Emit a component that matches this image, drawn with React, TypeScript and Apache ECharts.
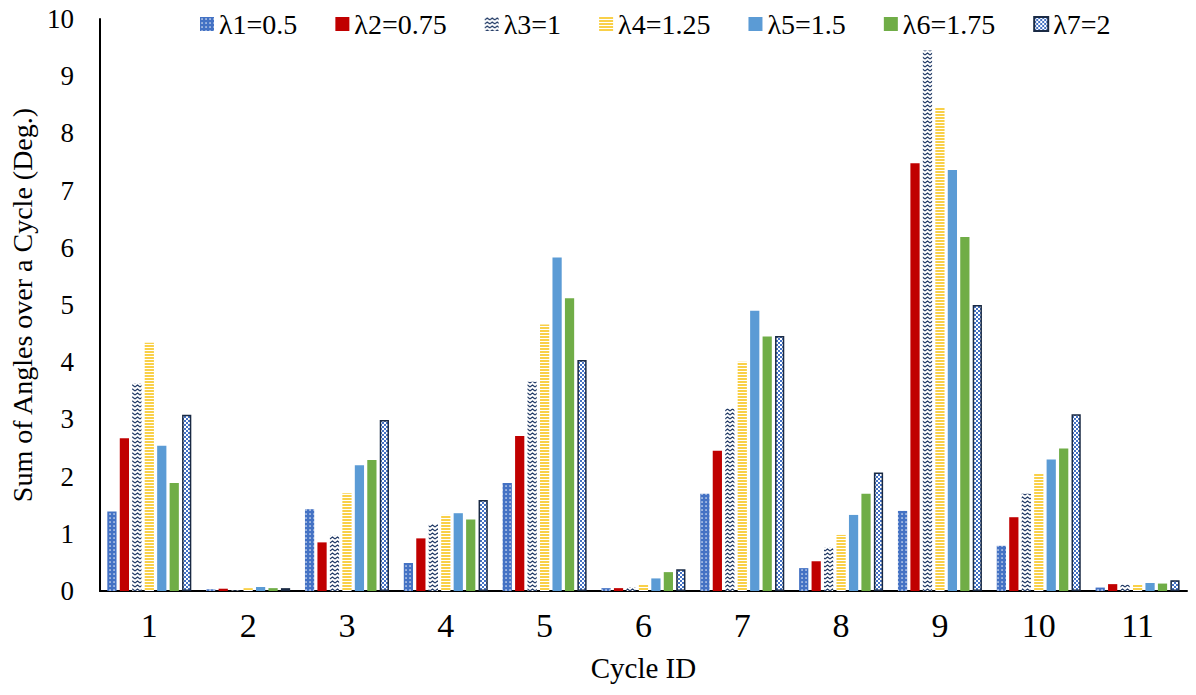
import React, { useEffect, useRef } from "react";
import * as echarts from "echarts";

const cycles = ["1", "2", "3", "4", "5", "6", "7", "8", "9", "10", "11"];
const seriesNames = ["λ1=0.5", "λ2=0.75", "λ3=1", "λ4=1.25", "λ5=1.5", "λ6=1.75", "λ7=2"];
const lambda1 = [1.39, 0.03, 1.43, 0.49, 1.89, 0.05, 1.7, 0.4, 1.4, 0.79, 0.06];
const lambda2 = [2.67, 0.04, 0.85, 0.92, 2.71, 0.05, 2.45, 0.52, 7.48, 1.29, 0.12];
const lambda3 = [3.63, 0.01, 0.97, 1.17, 3.66, 0.07, 3.19, 0.76, 9.45, 1.7, 0.11];
const lambda4 = [4.34, 0.05, 1.71, 1.33, 4.66, 0.11, 4.01, 0.98, 8.45, 2.05, 0.12];
const lambda5 = [2.54, 0.07, 2.2, 1.36, 5.83, 0.22, 4.9, 1.33, 7.36, 2.3, 0.14];
const lambda6 = [1.89, 0.05, 2.29, 1.25, 5.12, 0.33, 4.45, 1.7, 6.19, 2.49, 0.13];
const lambda7 = [3.08, 0.05, 2.99, 1.59, 4.04, 0.38, 4.46, 2.07, 5.0, 3.09, 0.19];
const yTicks = { min: 0, max: 10, interval: 1 };

const FONT = "Liberation Serif";

function tile(w: number, h: number, body: string) {
  const svg = `<svg xmlns="http://www.w3.org/2000/svg" width="${w}" height="${h}" viewBox="0 0 ${w} ${h}">${body}</svg>`;
  return {
    image: "data:image/svg+xml;charset=utf-8," + encodeURIComponent(svg),
    repeat: "repeat",
    imageWidth: w,
    imageHeight: h,
  } as any;
}

const patDots = tile(4, 4, `<rect width="4" height="4" fill="#4472C4"/><rect x="1.4" y="1.4" width="1.3" height="1.3" fill="#ffffff"/>`);
const patWave = tile(5, 4, `<rect width="5" height="4" fill="#ffffff"/><polyline points="0,3 2.5,1 5,3" fill="none" stroke="#1F3864" stroke-width="1.1"/>`);
const patStripes = tile(4, 3, `<rect width="4" height="3" fill="#ffffff"/><rect width="4" height="2" fill="#F9D048"/>`);
const patCheck = tile(4, 4, `<rect width="4" height="4" fill="#ffffff"/><rect width="2" height="2" fill="#4472C4"/><rect x="2" y="2" width="2" height="2" fill="#4472C4"/>`);

export default function App() {
  const ref = useRef<HTMLDivElement>(null);
  useEffect(() => {
    if (!ref.current) return;
    const chart = echarts.init(ref.current, null, { renderer: "svg" });
    const dataSets = [lambda1, lambda2, lambda3, lambda4, lambda5, lambda6, lambda7];
    const styles: any[] = [
      { color: patDots },
      { color: "#C00000" },
      { color: patWave },
      { color: patStripes },
      { color: "#5B9BD5" },
      { color: "#70AD47" },
      { color: patCheck, borderColor: "#1A2A44", borderWidth: 1.5 },
    ];
    const txt = { fontFamily: FONT, fontStyle: "normal", fontWeight: "normal", color: "#000" };
    chart.setOption({
      animation: false,
      backgroundColor: "#ffffff",
      textStyle: { fontFamily: FONT },
      legend: {
        top: 5,
        left: 195,
        itemWidth: 14,
        itemHeight: 14,
        itemGap: 38,
        icon: "rect",
        textStyle: { ...txt, fontSize: 28 },
        data: seriesNames,
      },
      grid: { left: 97, right: 9, top: 19, bottom: 104, containLabel: false },
      xAxis: {
        type: "category",
        data: cycles,
        name: "Cycle ID",
        nameLocation: "middle",
        nameGap: 62,
        nameTextStyle: { ...txt, fontSize: 29 },
        axisLine: { lineStyle: { color: "#000", width: 2 } },
        axisTick: { show: false },
        axisLabel: { ...txt, fontSize: 34, margin: 17 },
      },
      yAxis: {
        type: "value",
        min: yTicks.min,
        max: yTicks.max,
        interval: yTicks.interval,
        name: "Sum of Angles over a Cycle (Deg.)",
        nameLocation: "middle",
        nameGap: 62,
        nameTextStyle: { ...txt, fontSize: 28 },
        axisLine: { show: true, lineStyle: { color: "#000", width: 2 } },
        axisTick: { show: false },
        splitLine: { show: false },
        axisLabel: { ...txt, fontSize: 27, margin: 26 },
      },
      series: dataSets.map((d, i) => ({
        name: seriesNames[i],
        type: "bar",
        data: d,
        barGap: "35%",
        barCategoryGap: "15%",
        itemStyle: styles[i],
      })),
    });
    return () => chart.dispose();
  }, []);
  return <div ref={ref} style={{ position: "fixed", left: 0, top: 0, width: 1196, height: 695 }} />;
}
